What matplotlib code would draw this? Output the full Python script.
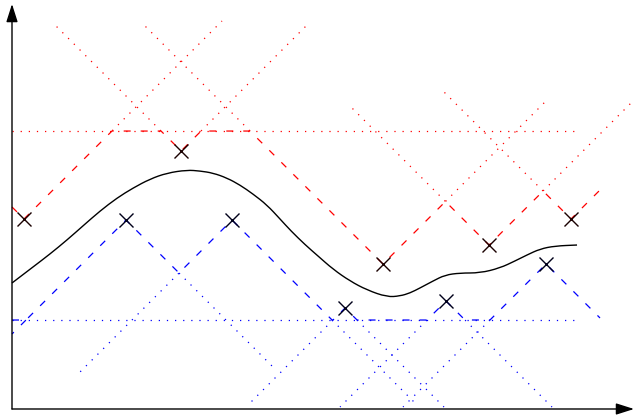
import numpy as np
import matplotlib
matplotlib.use('Agg')
import matplotlib.pyplot as plt
from matplotlib.path import Path
from matplotlib.patches import PathPatch

# one unit = 60 px of the picture, slope of every cone = 1
L = 1.0

# upper samples (red) and lower samples (blue)
x_up = [0.2, 2.817, 6.183, 7.95, 9.317]
f_up = [3.167, 4.3, 2.417, 2.733, 3.167]
x_lo = [1.9, 3.667, 5.55, 7.233, 8.9]
f_lo = [3.15, 3.15, 1.683, 1.8, 2.417]

# how far each cone is drawn, left end and right end
left_up = [0.0, 0.683, 2.167, 5.617, 7.167]
right_up = [3.5, 4.967, 8.9, 10.5, 9.8]
left_lo = [0.0, 1.1, 3.917, 5.467, 6.517]
right_lo = [4.4, 6.75, 7.2, 9.0, 9.8]

cap_up = 4.633
cap_lo = 1.483
x_end_env = 9.8
x_end_cap = 9.417

# the function
curve_x = [0.0, 0.35, 0.633, 0.917, 1.2, 1.467, 1.75, 2.017, 2.3, 2.583, 2.917,
           3.133, 3.35, 3.583, 3.8, 4.017, 4.25, 4.467, 4.65, 4.883, 5.1, 5.35,
           5.633, 5.917, 6.25, 6.467, 6.633, 6.8, 7.017, 7.217, 7.467, 7.8,
           8.133, 8.383, 8.583, 8.8, 9.05, 9.417]
curve_y = [2.1, 2.367, 2.583, 2.817, 3.067, 3.3, 3.517, 3.683, 3.833, 3.933, 3.983,
           3.967, 3.933, 3.85, 3.733, 3.583, 3.4, 3.167, 2.967, 2.74, 2.55, 2.33,
           2.133, 1.983, 1.867, 1.883, 1.933, 2.017, 2.133, 2.233, 2.267, 2.267,
           2.35, 2.467, 2.567, 2.667, 2.717, 2.733]

lw = 0.9
dash = (0, (5.6, 8))
dot = (0, (1, 5.5))


def env_up(x):
    c = np.min([f + L*np.abs(x - xi) for xi, f in zip(x_up, f_up)], axis=0)
    return np.minimum(c, cap_up)


def env_lo(x):
    c = np.max([f - L*np.abs(x - xi) for xi, f in zip(x_lo, f_lo)], axis=0)
    return np.maximum(c, cap_lo)


def cones(ax, xs, fs, lefts, rights, env, sign, color):
    for i in range(len(xs)):
        for end in (lefts[i], rights[i]):
            t = np.linspace(xs[i], end, 600)
            y = fs[i] + sign*L*np.abs(t - xs[i])
            on = (np.abs(y - env(t)) < 1e-9) & (t <= x_end_env)
            y = np.where(on, np.nan, y)
            outer = (i == 0 and end < xs[i]) or (i == len(xs)-1 and end > xs[i])
            ax.plot(t, y, color=color, lw=lw, ls=dash if outer else dot)


def smooth_path(px, py):
    # quadratic pieces through the midpoints, the read points act as controls
    verts = [(px[0], py[0])]
    codes = [Path.MOVETO]
    for i in range(1, len(px) - 1):
        mx = (px[i] + px[i+1]) / 2
        my = (py[i] + py[i+1]) / 2
        verts += [(px[i], py[i]), (mx, my)]
        codes += [Path.CURVE3, Path.CURVE3]
    verts.append((px[-1], py[-1]))
    codes.append(Path.LINETO)
    return Path(verts, codes)


fig = plt.figure(figsize=(6.34, 4.19), dpi=100)
ax = fig.add_axes([0, 0, 1, 1])
ax.set_xlim(-0.2, 10.3667)
ax.set_ylim(-0.1667, 6.8167)
ax.axis('off')

# caps
ax.plot([0, x_end_cap], [cap_up, cap_up], color='red', lw=lw, ls=dot)
ax.plot([0, x_end_cap], [cap_lo, cap_lo], color='blue', lw=lw, ls=dot)

cones(ax, x_up, f_up, left_up, right_up, env_up, 1, 'red')
cones(ax, x_lo, f_lo, left_lo, right_lo, env_lo, -1, 'blue')

xx = np.linspace(0, x_end_env, 4000)
ax.plot(xx, env_up(xx), color='red', lw=lw, ls=dash)
ax.plot(xx, env_lo(xx), color='blue', lw=lw, ls=dash)

ax.add_patch(PathPatch(smooth_path(curve_x, curve_y), fill=False,
                       edgecolor='black', lw=1.0))

ax.plot(x_up, f_up, 'x', color='#1a0000', ms=10, mew=1.0, zorder=5)
ax.plot(x_lo, f_lo, 'x', color='#00001a', ms=10, mew=1.0, zorder=5)

# axes with arrows
head = dict(arrowstyle='-|>,head_length=1.1,head_width=0.35', color='black',
            lw=1.0, shrinkA=0, shrinkB=0, mutation_scale=10)
ax.annotate('', xy=(0, 6.75), xytext=(0, 0), arrowprops=head)
ax.annotate('', xy=(10.367, 0), xytext=(0, 0), arrowprops=head)

fig.savefig('out.png', dpi=100)
